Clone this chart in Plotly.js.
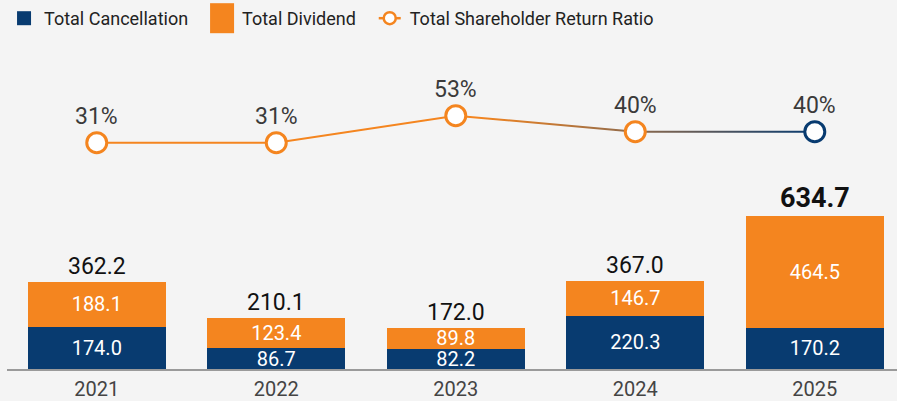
<!DOCTYPE html>
<html>
<head>
<meta charset="utf-8">
<script src="https://cdn.plot.ly/plotly-3.0.1.min.js"></script>
<style>
  html, body { margin: 0; padding: 0; background: #f4f4f4; }
  #chart { width: 897px; height: 401px; }
  #err { position: absolute; left: 300px; top: 50px; color: red; font: 12px sans-serif; }
</style>
</head>
<body>
<div id="chart"></div>
<div id="err"></div>
<script>
// ---- data ----
const years = ['2021', '2022', '2023', '2024', '2025'];
const cancellation = [174.0, 86.7, 82.2, 220.3, 170.2];
const dividend = [188.1, 123.4, 89.8, 146.7, 464.5];
const totals = [362.2, 210.1, 172.0, 367.0, 634.7];
const returnRatio = [31, 31, 53, 40, 40];
const ratioLabels = ['31%', '31%', '53%', '40%', '40%'];
const seriesNames = ['Total Cancellation', 'Total Dividend', 'Total Shareholder Return Ratio'];

// ---- styles ----
const NAVY = '#083b70';
const ORANGE = '#f4851f';
const FONT = 'Roboto, "Liberation Sans", sans-serif';
const PAD = '\u00a0\u00a0'; // extra legend spacing

try {
const traces = [
  {
    type: 'bar', name: seriesNames[0] + PAD, x: years, y: cancellation,
    text: cancellation.map(v => v.toFixed(1)),
    textposition: 'inside', insidetextanchor: 'middle', constraintext: 'none',
    textfont: { color: '#ffffff', size: 20, family: FONT },
    marker: { color: NAVY, line: { width: 0 } },
    hoverinfo: 'skip'
  },
  {
    type: 'bar', name: seriesNames[1] + PAD, x: years, y: dividend,
    text: dividend.map(v => v.toFixed(1)),
    textposition: 'inside', insidetextanchor: 'middle', constraintext: 'none',
    textfont: { color: '#ffffff', size: 20, family: FONT },
    marker: { color: ORANGE, line: { width: 0 } },
    hoverinfo: 'skip'
  },
  {
    type: 'scatter', mode: 'lines+markers', name: seriesNames[2],
    x: years, y: returnRatio, yaxis: 'y2',
    line: { color: ORANGE, width: 2 },
    marker: {
      size: 20, color: '#ffffff', symbol: 'circle',
      line: { width: 3, color: [ORANGE, ORANGE, ORANGE, ORANGE, NAVY] }
    },
    hoverinfo: 'skip'
  }
];

const annotations = [];
years.forEach((yr, i) => {
  const last = i === years.length - 1;
  annotations.push({
    x: i, y: totals[i], xref: 'x', yref: 'y', yanchor: 'bottom', yshift: 0,
    text: last ? '<b>' + totals[i].toFixed(1) + '</b>' : totals[i].toFixed(1),
    showarrow: false,
    font: { family: FONT, size: last ? 27 : 23, color: '#111111' }
  });
  annotations.push({
    x: i, y: returnRatio[i], xref: 'x', yref: 'y2', yanchor: 'bottom', yshift: 11,
    text: ratioLabels[i], showarrow: false,
    font: { family: FONT, size: 23, color: '#3a3a3a' }
  });
});

const hiddenAxis = {
  showticklabels: false, showgrid: false, zeroline: false, showline: false,
  ticks: '', fixedrange: true
};

const layout = {
  width: 897, height: 401,
  margin: { l: 7, r: 0, t: 40, b: 32 },
  paper_bgcolor: '#f4f4f4', plot_bgcolor: '#f4f4f4',
  barmode: 'stack', bargap: 0.231,
  hovermode: false,
  font: { family: FONT, color: '#333333' },
  showlegend: true,
  legend: {
    orientation: 'h', x: 0.0045, xref: 'container', xanchor: 'left',
    y: 1, yanchor: 'top', yref: 'container',
    traceorder: 'normal', font: { size: 18, color: '#222222', family: FONT },
    bgcolor: 'rgba(0,0,0,0)'
  },
  xaxis: {
    type: 'category', range: [-0.5, 4.458],
    showline: true, linecolor: '#9a9a9a', linewidth: 2,
    ticks: '', showgrid: false, zeroline: false, ticklabelstandoff: 1,
    tickfont: { size: 20, color: '#444444', family: FONT }, fixedrange: true
  },
  yaxis: Object.assign({ range: [0, 1364.6] }, hiddenAxis),
  yaxis2: Object.assign({ range: [-153.4, 114.7], overlaying: 'y', side: 'right' }, hiddenAxis),
  annotations: annotations
};

Plotly.newPlot('chart', traces, layout, { displayModeBar: false, staticPlot: true }).then(gd => {
  const svgNS = 'http://www.w3.org/2000/svg';
  const defs = gd.querySelector('svg.main-svg defs');
  const grad = document.createElementNS(svgNS, 'linearGradient');
  grad.setAttribute('id', 'ratioGrad');
  grad.setAttribute('x1', '0'); grad.setAttribute('y1', '0');
  grad.setAttribute('x2', '1'); grad.setAttribute('y2', '0');
  [['0', ORANGE], ['0.53', ORANGE], ['0.75', '#8e6a4c'], ['1', NAVY]].forEach(([o, c]) => {
    const s = document.createElementNS(svgNS, 'stop');
    s.setAttribute('offset', o); s.setAttribute('stop-color', c);
    grad.appendChild(s);
  });
  defs.appendChild(grad);
  gd.querySelectorAll('.scatterlayer .trace path.js-line').forEach(p => {
    p.style.stroke = 'url(#ratioGrad)';
  });
  // legend symbol sizes as in the reference
  const legendItems = gd.querySelectorAll('.legend .traces');
  const sizes = ['M7,7H-7V-7H7Z', 'M12,15H-12V-15H12Z'];
  legendItems.forEach((item, k) => {
    if (k < 2) {
      const p = item.querySelector('.legendpoints path');
      if (p) p.setAttribute('d', sizes[k]);
    } else {
      const ln = item.querySelector('.legendlines path');
      if (ln) { ln.setAttribute('d', 'M9,0h22'); ln.style.strokeWidth = '2.5px'; }
      const pt = item.querySelector('.legendpoints path');
      if (pt) { pt.setAttribute('d', 'M6,0A6,6 0 1,1 0,-6A6,6 0 0,1 6,0Z'); pt.style.strokeWidth = '2.5px'; }
    }
  });
}).catch(e => { document.getElementById('err').textContent = String(e); });
} catch (e) { document.getElementById('err').textContent = String(e); }
</script>
</body>
</html>
